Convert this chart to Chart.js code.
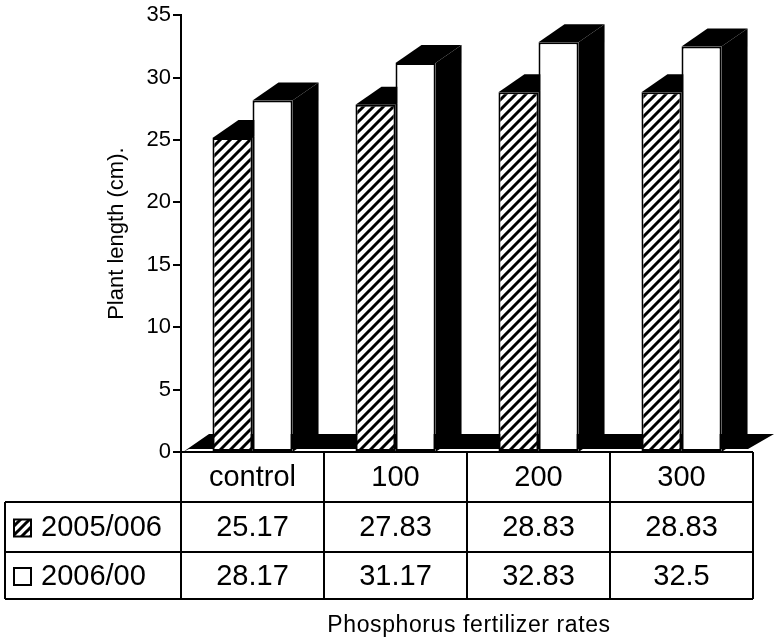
<!DOCTYPE html>
<html>
<head>
<meta charset="utf-8">
<title>Plant length by phosphorus fertilizer rate</title>
<script src="https://cdn.jsdelivr.net/npm/chart.js@4.4.1/dist/chart.umd.min.js"></script>
<style>
  html, body { margin: 0; padding: 0; background: #fff; }
  #wrap { width: 775px; height: 642px; position: relative; }
</style>
</head>
<body>
<div id="wrap"><canvas id="chart" width="775" height="642"></canvas></div>
<script>
// Phosphorus fertilizer rates (table header / x categories)
const categories = ['control', '100', '200', '300'];
// Season names shown in the table's legend column
const seasonNames = ['2005/006', '2006/00'];
// Plant length (cm) per season
const season2005 = [25.17, 27.83, 28.83, 28.83];
const season2006 = [28.17, 31.17, 32.83, 32.5];
// Value axis
const yMin = 0;
const yMax = 35;
const yStep = 5;
const yTitle = 'Plant length (cm).';
const xTitle = 'Phosphorus fertilizer rates';

const FONT = '"Liberation Sans", Arial, Helvetica, sans-serif';
const DX = 26;   // depth offset of the 3-D extrusion, x
const DY = 18;   // depth offset of the 3-D extrusion, y

// Diagonal hatch used for the first season
function makeHatch(size, width) {
  const c = document.createElement('canvas');
  c.width = size; c.height = size;
  const g = c.getContext('2d');
  g.fillStyle = '#fff';
  g.fillRect(0, 0, size, size);
  g.strokeStyle = '#000';
  g.lineWidth = width;
  g.beginPath();
  g.moveTo(-2, size + 2); g.lineTo(size + 2, -2);
  g.moveTo(-2, 2); g.lineTo(2, -2);
  g.moveTo(size - 2, size + 2); g.lineTo(size + 2, size - 2);
  g.stroke();
  return g.createPattern(c, 'repeat');
}
const hatch = makeHatch(10, 3);

// Black floor plus the top and side faces of every bar
const depthPlugin = {
  id: 'depth3d',
  beforeDatasetsDraw(chart) {
    const { ctx, chartArea } = chart;
    const base = chart.scales.y.getPixelForValue(0);
    ctx.save();
    ctx.fillStyle = '#000';
    ctx.beginPath();
    ctx.moveTo(chartArea.left + 2, base);
    ctx.lineTo(chartArea.left + 2 + DX, base - DY);
    ctx.lineTo(chartArea.right - 5 + DX, base - DY);
    ctx.lineTo(chartArea.right - 5, base - 3);
    ctx.lineTo(chartArea.left + 8, base - 3);
    ctx.closePath();
    ctx.fill();
    chart.data.datasets.forEach((ds, i) => {
      const meta = chart.getDatasetMeta(i);
      meta.data.forEach(bar => {
        const { x, y, width } = bar.getProps(['x', 'y', 'width'], true);
        const l = x - width / 2, r = x + width / 2;
        ctx.beginPath();
        ctx.moveTo(r, y);
        ctx.lineTo(r + DX, y - DY);
        ctx.lineTo(r + DX, base - DY);
        ctx.lineTo(r, base);
        ctx.closePath();
        ctx.fill();
        ctx.beginPath();
        ctx.moveTo(l, y);
        ctx.lineTo(l + DX, y - DY);
        ctx.lineTo(r + DX, y - DY);
        ctx.lineTo(r, y);
        ctx.closePath();
        ctx.fill();
      });
    });
    ctx.restore();
  }
};

// Data table under the plot, aligned with the category axis
const tablePlugin = {
  id: 'dataTable',
  afterDraw(chart) {
    const { ctx, chartArea } = chart;
    const xs = chart.scales.x;
    const n = categories.length;
    const colW = (chartArea.right - chartArea.left) / n;
    const top = chart.scales.y.getPixelForValue(0);
    const rows = [top, top + 50, top + 100, top + 147];
    const legendLeft = 5;
    const edges = categories.map((c, i) => xs.getPixelForValue(i) - colW / 2);
    edges.push(xs.getPixelForValue(n - 1) + colW / 2);
    const right = edges[n];

    ctx.save();
    ctx.strokeStyle = '#000';
    ctx.lineWidth = 2;
    ctx.beginPath();
    ctx.moveTo(edges[0], rows[0]); ctx.lineTo(right, rows[0]);
    for (let r = 1; r < rows.length; r++) {
      ctx.moveTo(legendLeft, rows[r]); ctx.lineTo(right, rows[r]);
    }
    edges.forEach(e => { ctx.moveTo(e, rows[0]); ctx.lineTo(e, rows[3]); });
    ctx.moveTo(legendLeft, rows[1]); ctx.lineTo(legendLeft, rows[3]);
    ctx.stroke();

    ctx.fillStyle = '#000';
    ctx.font = '29px ' + FONT;
    ctx.textAlign = 'center';
    ctx.textBaseline = 'middle';
    const series = [season2005, season2006];
    categories.forEach((c, i) => {
      const cx = (edges[i] + edges[i + 1]) / 2;
      ctx.fillText(c, cx, (rows[0] + rows[1]) / 2 + 1);
      series.forEach((s, k) => {
        ctx.fillText(String(s[i]), cx, (rows[k + 1] + rows[k + 2]) / 2 + 1);
      });
    });

    // legend column
    ctx.textAlign = 'left';
    seasonNames.forEach((name, k) => {
      const cy = (rows[k + 1] + rows[k + 2]) / 2;
      const bx = 14, bs = 17, by = cy - bs / 2 + 1;
      ctx.fillStyle = k === 0 ? makeHatch(9, 3) : '#fff';
      ctx.fillRect(bx, by, bs, bs);
      ctx.lineWidth = 2;
      ctx.strokeRect(bx, by, bs, bs);
      ctx.fillStyle = '#000';
      ctx.fillText(name, 41, cy + 1);
    });

    // x title
    ctx.font = '23px ' + FONT;
    ctx.textAlign = 'center';
    ctx.letterSpacing = '0.6px';
    ctx.fillText(xTitle, (edges[0] + right) / 2 + 2, 626);
    ctx.restore();
  }
};

new Chart(document.getElementById('chart'), {
  type: 'bar',
  data: {
    labels: categories,
    datasets: [
      {
        label: seasonNames[0],
        data: season2005,
        backgroundColor: hatch,
        borderColor: '#000',
        borderWidth: 2,
        borderSkipped: false
      },
      {
        label: seasonNames[1],
        data: season2006,
        backgroundColor: '#fff',
        borderColor: '#000',
        borderWidth: 2,
        borderSkipped: false
      }
    ]
  },
  options: {
    responsive: false,
    animation: false,
    devicePixelRatio: 1,
    layout: { padding: { top: 14, bottom: 190, left: 100, right: 22 } },
    datasets: { bar: { categoryPercentage: 0.56, barPercentage: 1 } },
    plugins: {
      legend: { display: false },
      tooltip: { enabled: false }
    },
    scales: {
      x: { display: false },
      y: {
        min: yMin,
        max: yMax,
        ticks: {
          stepSize: yStep,
          color: '#000',
          padding: 2,
          font: { family: FONT, size: 22 }
        },
        grid: {
          display: true,
          drawOnChartArea: false,
          drawTicks: true,
          tickLength: 8,
          color: '#000',
          lineWidth: 2
        },
        border: { display: true, color: '#000', width: 2 },
        title: {
          display: true,
          text: yTitle,
          color: '#000',
          font: { family: FONT, size: 22 },
          padding: { top: 4, bottom: 4 }
        },
        afterFit(scale) { scale.width = 81; }
      }
    }
  },
  plugins: [depthPlugin, tablePlugin]
});
</script>
</body>
</html>
